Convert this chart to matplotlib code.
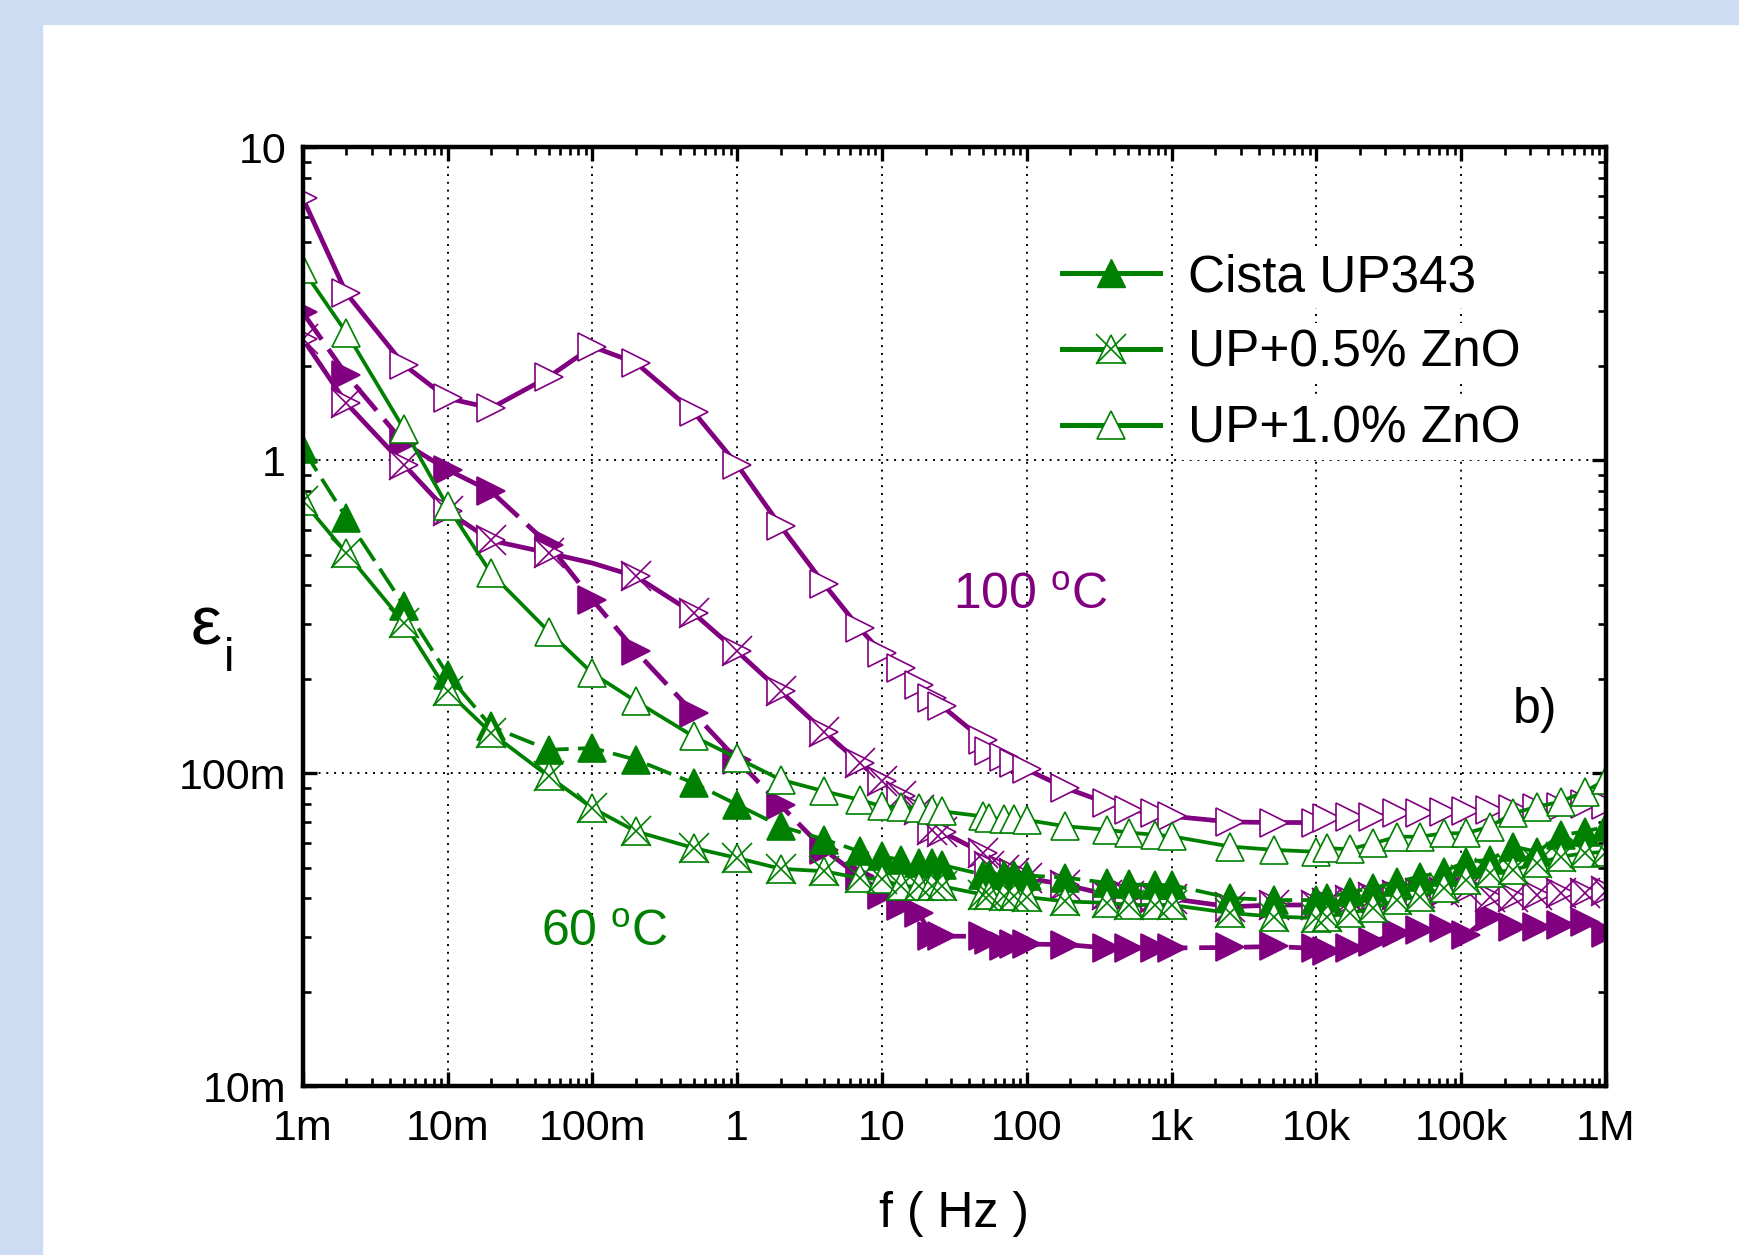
import matplotlib
matplotlib.use("Agg")
import matplotlib.pyplot as plt
from matplotlib.patches import Rectangle
from matplotlib.lines import Line2D
from matplotlib.legend_handler import HandlerTuple

plt.rcParams["font.family"] = ["Liberation Sans", "DejaVu Sans"]
plt.rcParams["mathtext.fontset"] = "custom"
plt.rcParams["mathtext.rm"] = "Liberation Sans"
plt.rcParams["mathtext.it"] = "Liberation Sans:italic"

PURPLE = "#800080"
GREEN = "#008000"

# frequency points (Hz)
freq = [1e-3, 2e-3, 5e-3, 1e-2, 2e-2, 5e-2, 0.1, 0.2, 0.5, 1,
        2, 4, 7, 10, 13.5, 18, 22, 26,
        50, 55, 70, 82, 100,
        185, 360, 510, 770, 1000,
        2550, 5100, 10000,
        11800, 17000, 24800, 36000, 52000, 76000, 108000, 157000,
        228000, 336000, 488000, 711000, 1e6]

# 60 C (green)
g_pure = [1.09, 0.656, 0.344, 0.207, 0.1413, 0.119, 0.1206, 0.1106, 0.0932, 0.0795,
          0.0678, 0.0615, 0.0564, 0.0543, 0.053, 0.0517, 0.0517, 0.051,
          0.0475, 0.0475, 0.0475, 0.0475, 0.0472,
          0.0465, 0.0447, 0.0442, 0.044, 0.044,
          0.040, 0.0394, 0.0394,
          0.040, 0.0419, 0.043, 0.0451, 0.0468, 0.0486, 0.0523, 0.0529,
          0.0584, 0.0562, 0.0636, 0.0652, 0.0676]
g_zno05 = [0.742, 0.506, 0.303, 0.183, 0.1347, 0.0978, 0.0775, 0.0653, 0.0578, 0.0537,
           0.0496, 0.0487, 0.0463, 0.046, 0.0436, 0.0436, 0.0436, 0.0436,
           0.041, 0.041, 0.0405, 0.0405, 0.0403,
           0.039, 0.0386, 0.038, 0.038, 0.038,
           0.0358, 0.0349, 0.0345,
           0.0349, 0.0358, 0.0371, 0.0394, 0.0404, 0.043, 0.0457, 0.048,
           0.0492, 0.0516, 0.0542, 0.0556, 0.0562]
g_zno10 = [4.08, 2.56, 1.26, 0.713, 0.436, 0.284, 0.209, 0.170, 0.1313, 0.112,
           0.0955, 0.0877, 0.0824, 0.0785, 0.078, 0.0775, 0.0765, 0.0757,
           0.0729, 0.072, 0.0715, 0.0715, 0.071,
           0.0678, 0.0661, 0.0647, 0.0637, 0.063,
           0.0584, 0.057, 0.0562,
           0.0577, 0.0573, 0.0598, 0.0628, 0.0628, 0.0644, 0.0644, 0.0676,
           0.0746, 0.0783, 0.0813, 0.0875, 0.0953]

# 100 C (purple)
p_pure = [2.97, 1.88, 1.137, 0.934, 0.796, 0.538, 0.359, 0.2455, 0.156, 0.1106,
          0.079, 0.057, 0.0469, 0.041, 0.0376, 0.0358, 0.0302, 0.0302,
          0.0302, 0.0294, 0.028, 0.0285, 0.0285,
          0.0284, 0.0277, 0.0277, 0.0277, 0.0277,
          0.0278, 0.028, 0.0276,
          0.027, 0.0276, 0.029, 0.0309, 0.0316, 0.032, 0.0305, 0.0349,
          0.0324, 0.0324, 0.0328, 0.0336, 0.0309]
p_zno05 = [2.45, 1.524, 0.969, 0.687, 0.555, 0.506, 0.47, 0.426, 0.325, 0.2455,
           0.183, 0.136, 0.108, 0.0943, 0.0845, 0.0766, 0.0661, 0.065,
           0.0557, 0.0505, 0.049, 0.048, 0.0463,
           0.0441, 0.041, 0.0405, 0.04, 0.0398,
           0.0375, 0.038, 0.038,
           0.0385, 0.0394, 0.0404, 0.0409, 0.0414, 0.0419, 0.0425, 0.0404,
           0.0404, 0.0409, 0.0414, 0.0414, 0.042]
p_zno05_nomark = [6]   # the 100m point has no symbol on this curve
p_zno10 = [6.89, 3.42, 2.02, 1.58, 1.47, 1.85, 2.31, 2.05, 1.43, 0.969,
           0.616, 0.402, 0.291, 0.2425, 0.2173, 0.192, 0.174, 0.164,
           0.128, 0.118, 0.113, 0.108, 0.103,
           0.0899, 0.0804, 0.0766, 0.0747, 0.073,
           0.0700, 0.0697, 0.0697,
           0.072, 0.0728, 0.0728, 0.0746, 0.0746, 0.0755, 0.0759, 0.0764,
           0.0768, 0.0778, 0.0783, 0.0797, 0.0790]

labels = ["Cista UP343", "UP+0.5% ZnO", "UP+1.0% ZnO"]

xticks = [1e-3, 1e-2, 1e-1, 1, 10, 100, 1e3, 1e4, 1e5, 1e6]
xticklabels = ["1m", "10m", "100m", "1", "10", "100", "1k", "10k", "100k", "1M"]
yticks = [1e-2, 1e-1, 1, 10]
yticklabels = ["10m", "100m", "1", "10"]

fig = plt.figure(figsize=(17.39, 12.55), dpi=100)
# light blue frame strips
fig.patches.append(Rectangle((0, 0.981), 1, 0.019, transform=fig.transFigure,
                             color="#cddcf2", zorder=0))
fig.patches.append(Rectangle((0, 0), 0.0242, 1, transform=fig.transFigure,
                             color="#cddcf2", zorder=0))

ax = fig.add_axes([0.1741, 0.1343, 0.9235 - 0.1741, 0.8825 - 0.1343])

MS = 20
DASH = (7, 2.5)


def curve(y, color, lw, marker, filled, dashed, cross=False, skip=()):
    idx = [i for i in range(len(freq)) if i not in skip]
    kw = dict(color=color, lw=lw, marker=marker, ms=MS, markevery=idx,
              mec=color, mew=1.2, mfc=color if filled else "white")
    line, = ax.plot(freq, y, **kw)
    if dashed:
        line.set_dashes(DASH)
    if cross:
        ax.plot([freq[i] for i in idx], [y[i] for i in idx], ls="none",
                marker="x", ms=MS + 2, mec=color, mew=1.2)
    return line


curve(p_pure, PURPLE, 3.4, ">", True, True)
curve(p_zno10, PURPLE, 3.4, ">", False, False)
curve(p_zno05, PURPLE, 3.4, ">", False, False, cross=True, skip=p_zno05_nomark)
curve(g_zno10, GREEN, 2.7, "^", False, False)
curve(g_pure, GREEN, 2.7, "^", True, True)
curve(g_zno05, GREEN, 2.7, "^", False, False, cross=True)

ax.set_xscale("log")
ax.set_yscale("log")
ax.set_xlim(1e-3, 1e6)
ax.set_ylim(1e-2, 10)
ax.set_xticks(xticks)
ax.set_xticklabels(xticklabels)
ax.set_yticks(yticks)
ax.set_yticklabels(yticklabels)

ax.grid(which="major", color="black", lw=1.4, ls=(0, (1, 3)))
ax.set_axisbelow(True)
for s in ax.spines.values():
    s.set_linewidth(3.2)
ax.tick_params(which="both", direction="in", top=True, right=True)
ax.tick_params(which="major", length=10, width=2.4, labelsize=31)
ax.tick_params(which="minor", length=6, width=1.9)
ax.tick_params(axis="x", which="major", pad=16)
ax.tick_params(axis="y", which="major", pad=12)

# legend proxies (solid segments, as in the original key)
h_pure = Line2D([], [], color=GREEN, lw=3.6, marker="^", ms=MS, mfc=GREEN, mec=GREEN)
h_05 = Line2D([], [], color=GREEN, lw=3.6, marker="^", ms=MS, mfc="white",
              mec=GREEN, mew=1.2)
h_05x = Line2D([], [], ls="none", marker="x", ms=MS + 2, mec=GREEN, mew=1.2)
h_10 = Line2D([], [], color=GREEN, lw=3.6, marker="^", ms=MS, mfc="white",
              mec=GREEN, mew=1.2)
leg = fig.legend([h_pure, (h_05, h_05x), h_10], labels,
                 handler_map={tuple: HandlerTuple(ndivide=1, pad=0)},
                 loc="center left", bbox_to_anchor=(0.590, 0.7185),
                 fontsize=37, frameon=False, borderpad=0.2, handlelength=1.9,
                 handletextpad=0.55, labelspacing=0.52, numpoints=1)
# white boxes behind the key texts hide the dotted grid, as in the original
for t in leg.get_texts():
    t.set_bbox(dict(boxstyle="square,pad=0.12", facecolor="white",
                    edgecolor="none"))

ax.text(0.558, 0.522, "100 $^{\\mathrm{o}}$C", transform=ax.transAxes,
        color=PURPLE, fontsize=36, ha="center", va="center")
ax.text(0.2315, 0.163, "60 $^{\\mathrm{o}}$C", transform=ax.transAxes,
        color=GREEN, fontsize=36, ha="center", va="center")
ax.text(0.9455, 0.4014, "b)", transform=ax.transAxes,
        color="black", fontsize=36, ha="center", va="center")
ax.text(-0.074, 0.49, "ε", transform=ax.transAxes,
        fontsize=50, ha="center", va="center")
ax.text(-0.0565, 0.455, "i", transform=ax.transAxes,
        fontsize=34, ha="center", va="center")
ax.text(0.4996, -0.1358, "f ( Hz )", transform=ax.transAxes,
        fontsize=36, ha="center", va="center")

fig.savefig("out.png", dpi=100, facecolor="white")
